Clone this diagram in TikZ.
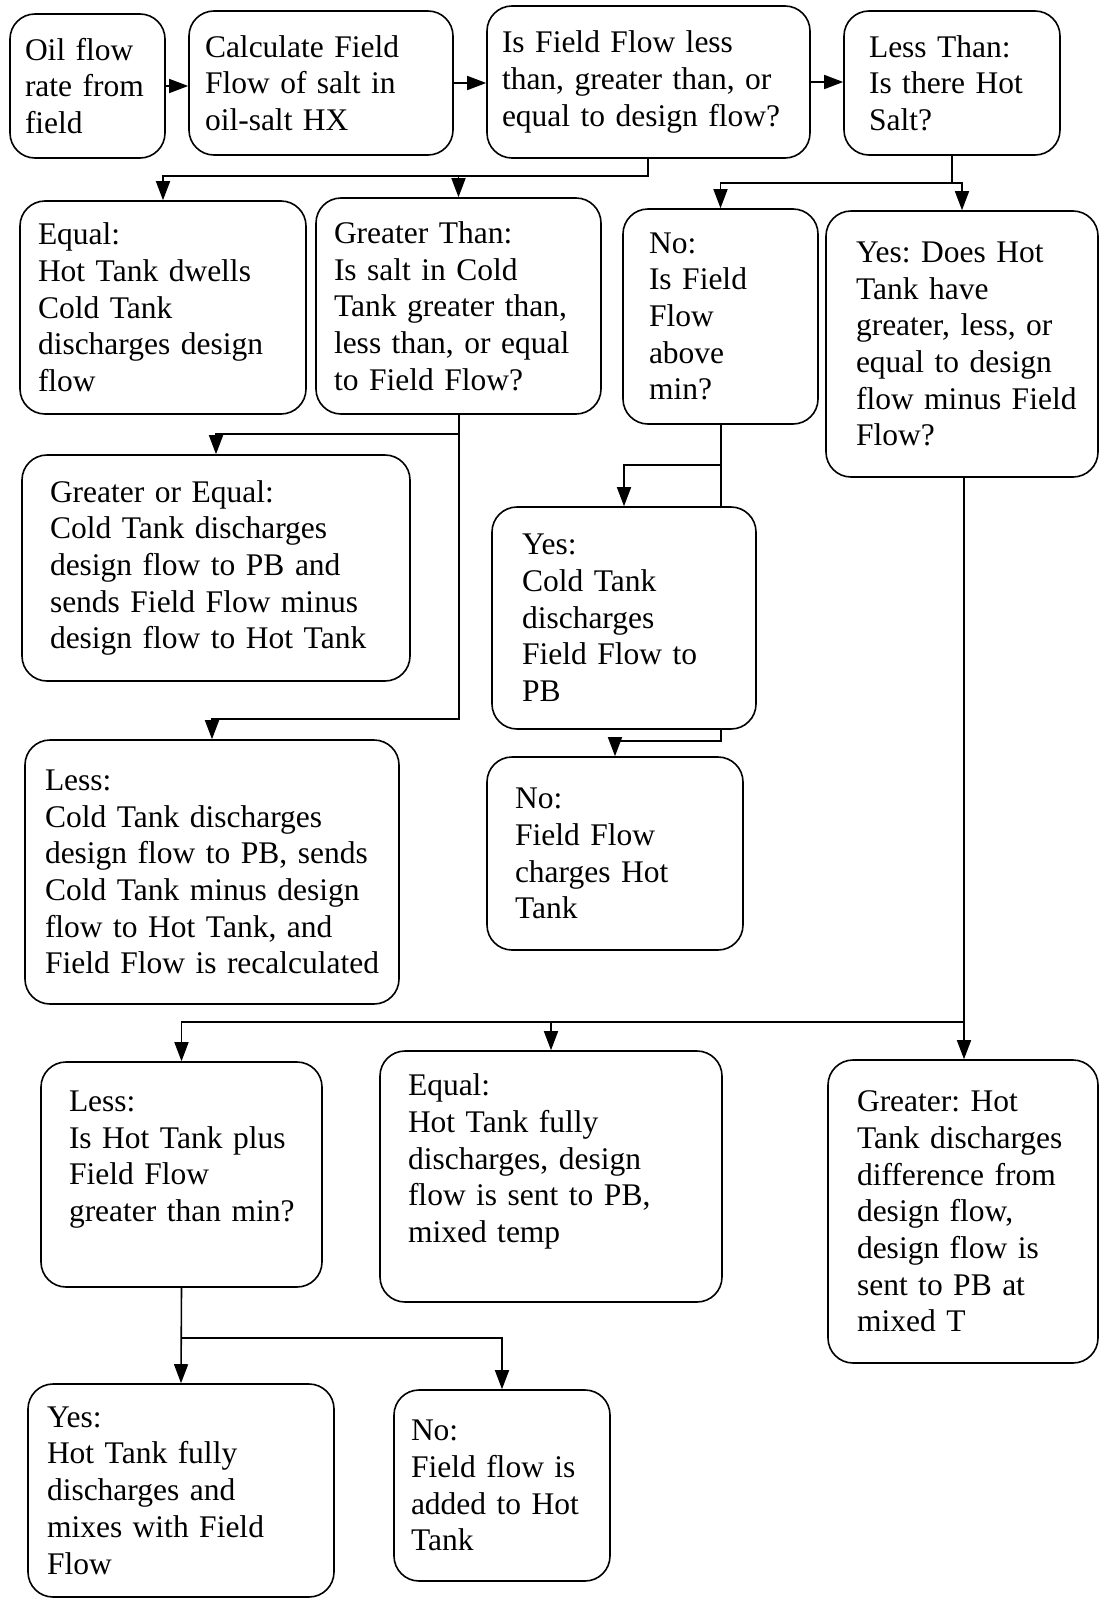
\documentclass[tikz,border=0pt]{standalone}
\usepackage{fontspec}
\setmainfont{Liberation Serif}
\usepackage{tikz}
\usetikzlibrary{arrows.meta,calc,positioning}

\tikzset{
  stepbox/.style={draw, rounded corners=25pt, line width=1.6pt, align=left,
    font=\fontsize{31.5}{36.7}\selectfont,
    execute at begin node={\frenchspacing\hyphenpenalty=10000\exhyphenpenalty=10000}},
  flowline/.style={line width=1.6pt},
  >={Triangle[length=19pt,width=14pt]}
}

\begin{document}
\begin{tikzpicture}[x=1pt,y=-1pt]
\useasboundingbox (0,0) rectangle (1099,1598);
\node[stepbox, minimum height=144pt, text width=125pt, inner xsep=15pt] (oil) at (87.5,86) {Oil flow\\rate from\\field};
\node[stepbox, minimum height=144pt, text width=232pt, inner xsep=16pt] (calc) at (321,83) {Calculate Field\\Flow of salt in\\oil-salt HX};
\node[stepbox, minimum height=152pt, text width=293pt, inner xsep=15pt] (cmp) at (648.5,82) {Is Field Flow less\\than, greater than, or\\equal to design flow?};
\node[stepbox, minimum height=144pt, text width=166pt, inner xsep=25pt] (lt) at (952,83) {Less Than:\\Is there Hot\\Salt?};
\node[stepbox, minimum height=213pt, text width=250pt, inner xsep=18pt] (eq) at (163,307.5) {Equal:\\Hot Tank dwells\\Cold Tank\\discharges design\\flow};
\node[stepbox, minimum height=216pt, text width=249pt, inner xsep=18pt] (gt) at (458.5,306) {Greater Than:\\Is salt in Cold\\Tank greater than,\\less than, or equal\\to Field Flow?};
\node[stepbox, minimum height=215pt, text width=143pt, inner xsep=26pt] (nf) at (720.5,316.5) {No:\\Is Field\\Flow\\above\\min?};
\node[stepbox, minimum height=266pt, text width=212pt, inner xsep=30pt] (yes) at (962,344) {Yes: Does Hot\\Tank have\\greater, less, or\\equal~to~design\\flow~minus~Field\\Flow?};
\node[stepbox, minimum height=226pt, text width=332pt, inner xsep=28pt] (ge) at (216,568) {Greater or Equal:\\Cold Tank discharges\\design flow to PB and\\sends Field Flow minus\\design flow to Hot Tank};
\node[stepbox, minimum height=222pt, text width=204pt, inner xsep=30pt] (cy) at (624,618) {Yes:\\Cold Tank\\discharges\\Field Flow to\\PB};
\node[stepbox, minimum height=264pt, text width=334pt, inner xsep=20pt] (less) at (212,872) {Less:\\Cold Tank discharges\\design~flow~to~PB,~sends\\Cold~Tank~minus~design\\flow to Hot Tank, and\\Field~Flow~is~recalculated};
\node[stepbox, minimum height=193pt, text width=200pt, inner xsep=28pt] (nof) at (615,853.5) {No:\\Field Flow\\charges Hot\\Tank};
\node[stepbox, minimum height=225pt, text width=225pt, inner xsep=28pt] (hl) at (181.5,1174.5) {Less:\\Is Hot Tank plus\\Field Flow\\greater~than~min?\\\mbox{}};
\node[stepbox, minimum height=251pt, text width=286pt, inner xsep=28pt] (he) at (551,1176.5) {Equal:\\Hot Tank fully\\discharges, design\\flow is sent to PB,\\mixed temp\\\mbox{}};
\node[stepbox, minimum height=303pt, text width=212pt, inner xsep=29pt] (gr) at (963,1211.5) {Greater: Hot\\Tank~discharges\\difference from\\design flow,\\design flow is\\sent to PB at\\mixed T};
\node[stepbox, minimum height=213pt, text width=268pt, inner xsep=19pt] (hy) at (181,1490.5) {Yes:\\Hot Tank fully\\discharges and\\mixes with Field\\Flow};
\node[stepbox, minimum height=191pt, text width=182pt, inner xsep=17pt] (hn) at (502,1485.5) {No:\\Field flow is\\added to Hot\\Tank};

\coordinate (j1) at (648,176);
\coordinate (j2) at (952,183);
\coordinate (j3) at (459,434);
\coordinate (j4) at (459,719);
\coordinate (j5) at (721,465);
\coordinate (j6) at (721,741);
\coordinate (j7) at (964,1022);
\coordinate (j8) at (181,1338);

\draw[flowline,->] (oil.east) -- (oil.east -| calc.west);
\draw[flowline,->] (calc.east) -- (calc.east -| cmp.west);
\draw[flowline,->] (cmp.east) -- (cmp.east -| lt.west);
\draw[flowline,->] (cmp.south -| j1) -- (j1) -| (eq.north);
\draw[flowline,->] (gt.north |- j1) -- (gt.north);
\draw[flowline,->] (lt.south) -- (j2) -| (nf.north);
\draw[flowline,->] (j2) -| (yes.north);
\draw[flowline,->] (gt.south -| j3) -- (j4) -| (less.north);
\draw[flowline,->] (j3) -| (ge.north);
\draw[flowline] (nf.south -| j5) -- (cy.north -| j5);
\draw[flowline,->] (j5) -| (cy.north);
\draw[flowline,->] (cy.south -| j6) -- (j6) -| (nof.north);
\draw[flowline,->] (yes.south -| j7) -- (gr.north -| j7);
\draw[flowline,->] (j7) -| (hl.north);
\draw[flowline,->] (he.north |- j7) -- (he.north);
\draw[flowline,->] (hl.south) -- (hy.north);
\draw[flowline,->] (j8) -| (hn.north);
\end{tikzpicture}
\end{document}
